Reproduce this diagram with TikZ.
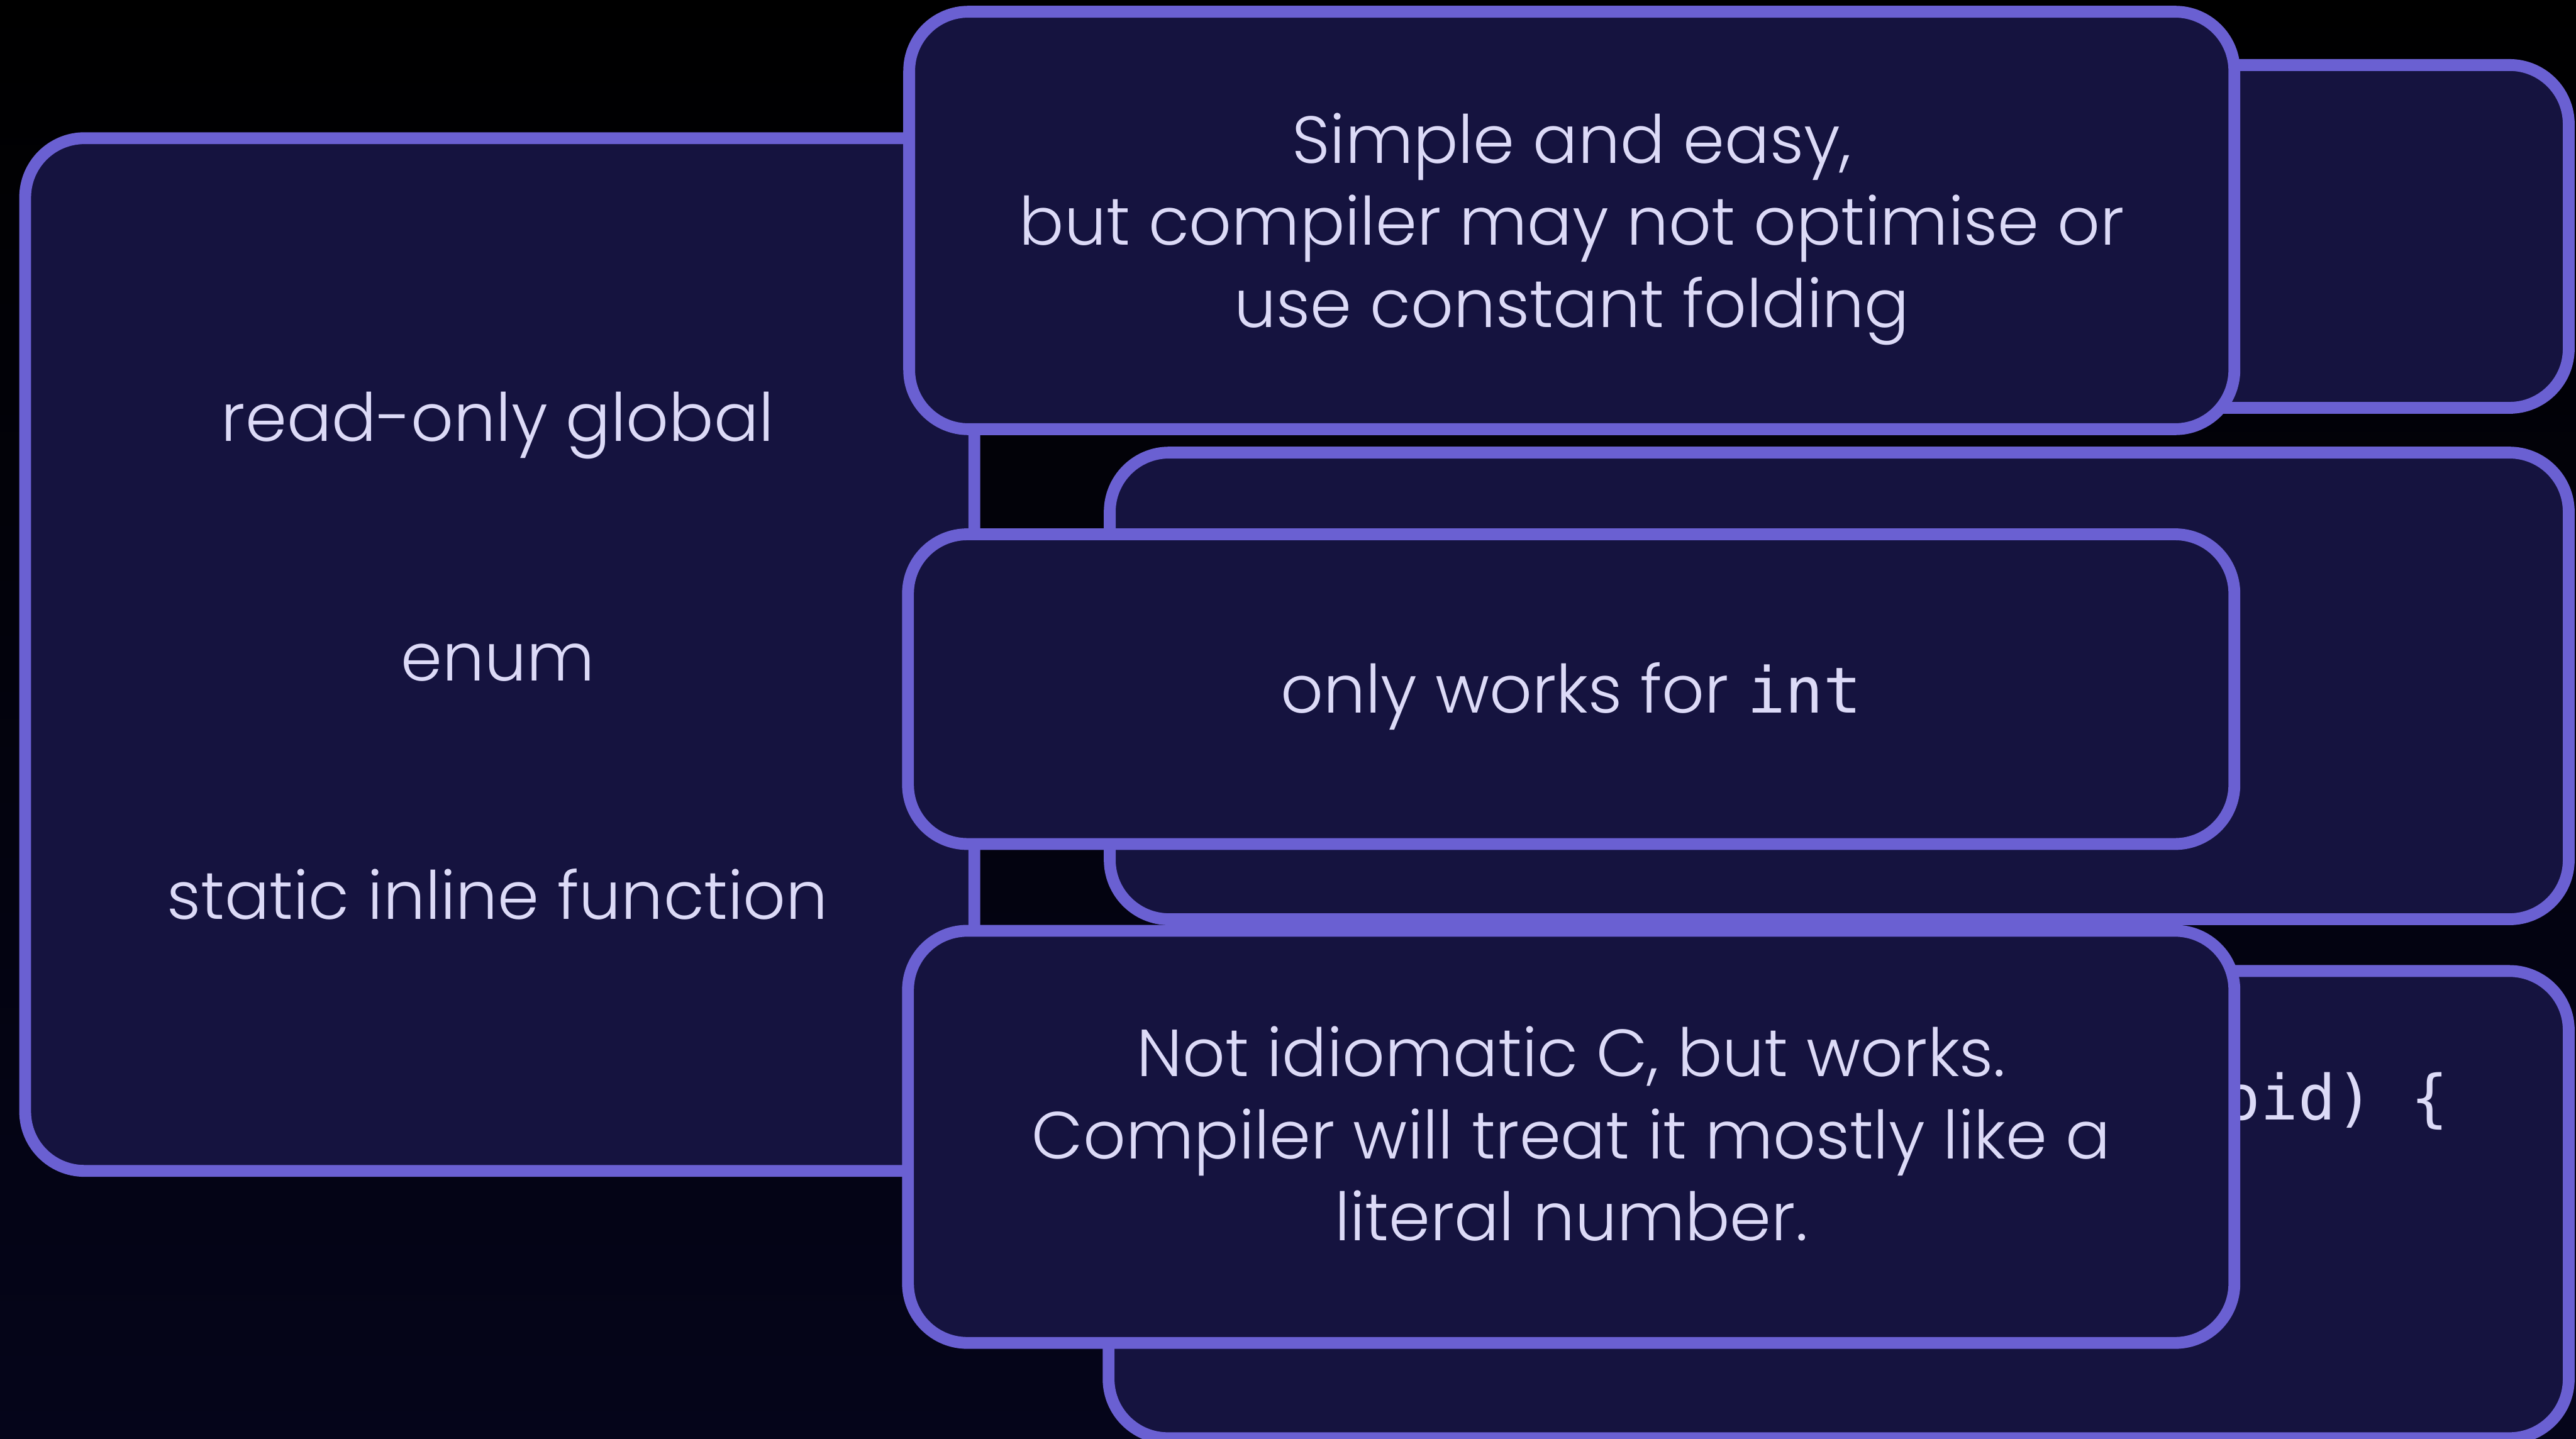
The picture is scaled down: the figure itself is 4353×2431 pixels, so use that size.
\documentclass[tikz,border=0pt]{standalone}
\usepackage{fontspec}
\setmainfont{Poppins}[UprightFont={* Light}]
\newfontfamily\codefont{DejaVu Sans Mono}
\definecolor{bordercol}{HTML}{6A60D2}
\definecolor{fillcol}{HTML}{15133F}
\definecolor{txtcol}{HTML}{DCDAF7}
\definecolor{bgtop}{HTML}{000000}
\definecolor{bgbot}{HTML}{05051A}
\tikzset{
  card/.style={draw=bordercol, fill=fillcol, line width=0.2cm, rounded corners=1cm,
    inner sep=0pt, outer sep=0pt},
  cardtext/.style={text=txtcol, inner sep=0pt, align=center,
    font=\fontsize{32}{39.5}\selectfont},
  lbl/.style={text=txtcol, inner sep=0pt, anchor=base, font=\fontsize{32}{39.5}\selectfont},
  codelbl/.style={text=txtcol, inner sep=0pt, anchor=base west, font=\codefont\fontsize{30}{36}\selectfont}
}
\begin{document}
\begin{tikzpicture}[x=0.01cm,y=-0.01cm]
\useasboundingbox (0,0) rectangle (4353,2431);
\clip (0,0) rectangle (4353,2431);
\shade[top color=bgtop, bottom color=bgbot] (0,0) rectangle (4353,2431);
% left list card
\node[card, minimum width=16.03cm, minimum height=17.44cm] (L) at (844.5,1106) {};
\node[lbl] (l1) at (841,745) {read-only global};
\node[lbl] (l2) at (841,1150) {enum};
\node[lbl] (l3) at (841,1553) {static inline function};
% back cards
\node[card, minimum width=24.64cm, minimum height=5.79cm] (A) at (3108,399.5) {};
\node[card, minimum width=24.64cm, minimum height=7.88cm] (B) at (3108,1159) {};
\node[card, minimum width=24.66cm, minimum height=7.89cm] (C) at (3107,2035.5) {};
\node[codelbl] (code) at (3756,1892) {oid) \{};
% front cards
\node[card, minimum width=22.38cm, minimum height=7.05cm] (T) at (2656,372.5) {};
\node[cardtext] (Ttxt) at (2656,387)
  {Simple and easy,\\but compiler may not optimise or\\use constant folding};
\node[card, minimum width=22.40cm, minimum height=5.23cm] (M) at (2655,1164.5) {};
\node[cardtext] (Mtxt) at (2655,1176)
  {only works for {\codefont\fontsize{30.5}{36}\selectfont int}};
\node[card, minimum width=22.40cm, minimum height=6.96cm] (N) at (2655,1921) {};
\node[cardtext] (Ntxt) at (2655,1916)
  {Not idiomatic C, but works.\\Compiler will treat it mostly like a\\literal number.};
\end{tikzpicture}
\end{document}
